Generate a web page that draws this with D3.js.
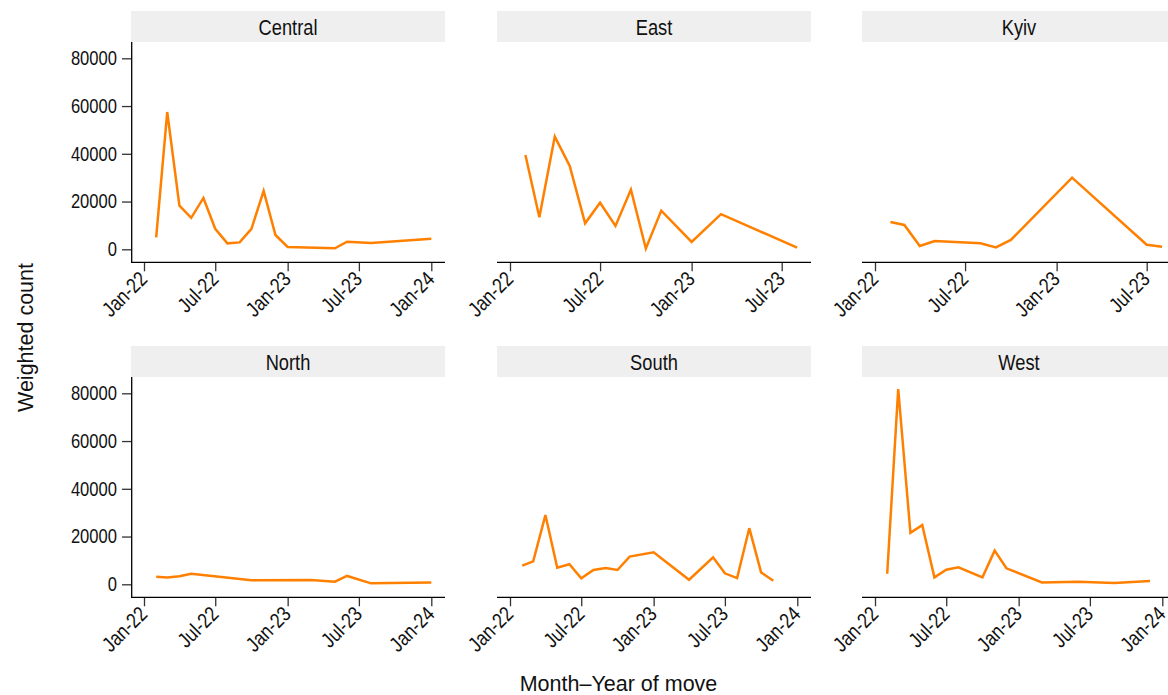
<!DOCTYPE html>
<html>
<head>
<meta charset="utf-8">
<script src="https://cdn.jsdelivr.net/npm/d3@7"></script>
<style>
  html, body { margin: 0; padding: 0; background: #fff; }
  svg { display: block; }
</style>
</head>
<body>
<svg id="chart" width="1168" height="695"></svg>
<script>
// Monthly weighted counts of moves, by region: [month, weighted count]
const central = [
  ["2022-02", 5000], ["2022-03", 57500], ["2022-04", 18300], ["2022-05", 13200],
  ["2022-06", 21500], ["2022-07", 8600], ["2022-08", 2500], ["2022-09", 2900],
  ["2022-10", 8600], ["2022-11", 24500], ["2022-12", 6000], ["2023-01", 1000],
  ["2023-05", 400], ["2023-06", 3200], ["2023-08", 2600], ["2024-01", 4400]
];
const east = [
  ["2022-02", 39500], ["2022-03", 13400], ["2022-04", 47200], ["2022-05", 34900],
  ["2022-06", 10900], ["2022-07", 19500], ["2022-08", 9800], ["2022-09", 25000],
  ["2022-10", 300], ["2022-11", 16200], ["2023-01", 3100], ["2023-03", 14700],
  ["2023-08", 700]
];
const kyiv = [
  ["2022-02", 11400], ["2022-03", 10200], ["2022-04", 1400], ["2022-05", 3500],
  ["2022-08", 2500], ["2022-09", 800], ["2022-10", 3900], ["2023-02", 30000],
  ["2023-07", 1900], ["2023-08", 1100]
];
const north = [
  ["2022-02", 3200], ["2022-03", 2800], ["2022-04", 3400], ["2022-05", 4400],
  ["2022-10", 1700], ["2023-03", 1800], ["2023-05", 1100], ["2023-06", 3500],
  ["2023-08", 400], ["2024-01", 800]
];
const south = [
  ["2022-02", 7800], ["2022-03", 9600], ["2022-04", 29000], ["2022-05", 7000],
  ["2022-06", 8400], ["2022-07", 2500], ["2022-08", 6000], ["2022-09", 6800],
  ["2022-10", 6000], ["2022-11", 11600], ["2023-01", 13400], ["2023-04", 1900],
  ["2023-06", 11300], ["2023-07", 4600], ["2023-08", 2600], ["2023-09", 23500],
  ["2023-10", 5000], ["2023-11", 1500]
];
const west = [
  ["2022-02", 4400], ["2022-03", 81800], ["2022-04", 21600], ["2022-05", 24800],
  ["2022-06", 2900], ["2022-07", 6100], ["2022-08", 7100], ["2022-10", 2900],
  ["2022-11", 14100], ["2022-12", 6700], ["2023-03", 800], ["2023-06", 1100],
  ["2023-09", 500], ["2023-12", 1400]
];

// Axis ticks
const yTicks = [0, 20000, 40000, 60000, 80000];
const longTicks = ["2022-01", "2022-07", "2023-01", "2023-07", "2024-01"];
const shortTicks = ["2022-01", "2022-07", "2023-01", "2023-07"];

const panels = [
  { name: "Central", data: central, ticks: longTicks },
  { name: "East",    data: east,    ticks: shortTicks },
  { name: "Kyiv",    data: kyiv,    ticks: shortTicks },
  { name: "North",   data: north,   ticks: longTicks },
  { name: "South",   data: south,   ticks: longTicks },
  { name: "West",    data: west,    ticks: longTicks }
];

// Layout
const colX = [131, 497, 862];
const rowY = [11, 346];
const panelW = 314;
const stripH = 31;
const plotH = 220.3;           // from strip bottom to the x axis line
const lineColor = "#ff8000";
const labelFont = "'Liberation Sans', Arial, sans-serif";

const parseMonth = d3.utcParse("%Y-%m");
const fmtMonth = d3.utcFormat("%b-%y");

const svg = d3.select("#chart");

// Squeeze text horizontally to a narrow face
function condense(sel, factor) {
  sel.each(function () {
    const w = this.getComputedTextLength();
    d3.select(this)
      .attr("textLength", (w * factor).toFixed(2))
      .attr("lengthAdjust", "spacingAndGlyphs");
  });
}

const y = d3.scaleLinear().domain([0, 80000]).range([207.3, 16.3]);

panels.forEach((p, i) => {
  const col = i % 3, row = Math.floor(i / 3);
  const g = svg.append("g")
    .attr("transform", `translate(${colX[col]},${rowY[row] + stripH})`);

  // strip header
  svg.append("rect")
    .attr("x", colX[col]).attr("y", rowY[row])
    .attr("width", panelW).attr("height", stripH)
    .attr("fill", "#efefef");
  svg.append("text")
    .attr("x", colX[col] + panelW / 2).attr("y", rowY[row] + 23.7)
    .attr("text-anchor", "middle")
    .style("font-family", labelFont).style("font-size", "21.5px")
    .attr("fill", "#111")
    .text(p.name)
    .call(condense, 0.85);

  const tickDates = p.ticks.map(parseMonth);
  const x = d3.scaleUtc()
    .domain([tickDates[0], tickDates[tickDates.length - 1]])
    .range([13, p.ticks.length === 5 ? 300.3 : 284.7]);

  // x axis
  const xAxis = g.append("g")
    .attr("transform", `translate(0,${plotH})`)
    .call(d3.axisBottom(x).tickValues(tickDates).tickFormat(fmtMonth)
      .tickSize(9).tickSizeOuter(0));
  xAxis.select(".domain").remove();
  xAxis.selectAll(".tick line").attr("stroke", "#333").attr("stroke-width", 1.3);
  xAxis.selectAll(".tick text")
    .attr("x", 0).attr("y", 0).attr("dy", null)
    .attr("text-anchor", "end")
    .attr("transform", "translate(4,18) rotate(-45)")
    .attr("fill", "#111")
    .style("font-family", labelFont).style("font-size", "21px")
    .call(condense, 0.83);
  g.append("line")
    .attr("x1", 0).attr("x2", panelW)
    .attr("y1", plotH).attr("y2", plotH)
    .attr("stroke", "#000").attr("stroke-width", 1.3);

  // y axis on the left column only
  if (col === 0) {
    const yAxis = g.append("g")
      .call(d3.axisLeft(y).tickValues(yTicks).tickFormat(d3.format("d"))
        .tickSize(9).tickPadding(5).tickSizeOuter(0));
    yAxis.select(".domain").remove();
    yAxis.selectAll(".tick line").attr("stroke", "#333").attr("stroke-width", 1.3);
    yAxis.selectAll(".tick text")
      .attr("fill", "#111")
      .style("font-family", labelFont).style("font-size", "19.5px")
      .call(condense, 0.85);
    g.append("line")
      .attr("x1", 0.7).attr("x2", 0.7)
      .attr("y1", 0).attr("y2", plotH)
      .attr("stroke", "#000").attr("stroke-width", 1.3);
  }

  const line = d3.line()
    .x(d => x(parseMonth(d[0])))
    .y(d => y(d[1]));

  g.append("path")
    .datum(p.data)
    .attr("d", line)
    .attr("fill", "none")
    .attr("stroke", lineColor)
    .attr("stroke-width", 2.5)
    .attr("stroke-linejoin", "miter");
});

// axis titles
svg.append("text")
  .attr("x", 618.5).attr("y", 691)
  .attr("text-anchor", "middle")
  .style("font-family", labelFont).style("font-size", "21.5px")
  .attr("fill", "#111")
  .text("Month\u2013Year of move");

svg.append("text")
  .attr("transform", "translate(33,337.5) rotate(-90)")
  .attr("text-anchor", "middle")
  .style("font-family", labelFont).style("font-size", "21.5px")
  .attr("fill", "#111")
  .text("Weighted count");
</script>
</body>
</html>
